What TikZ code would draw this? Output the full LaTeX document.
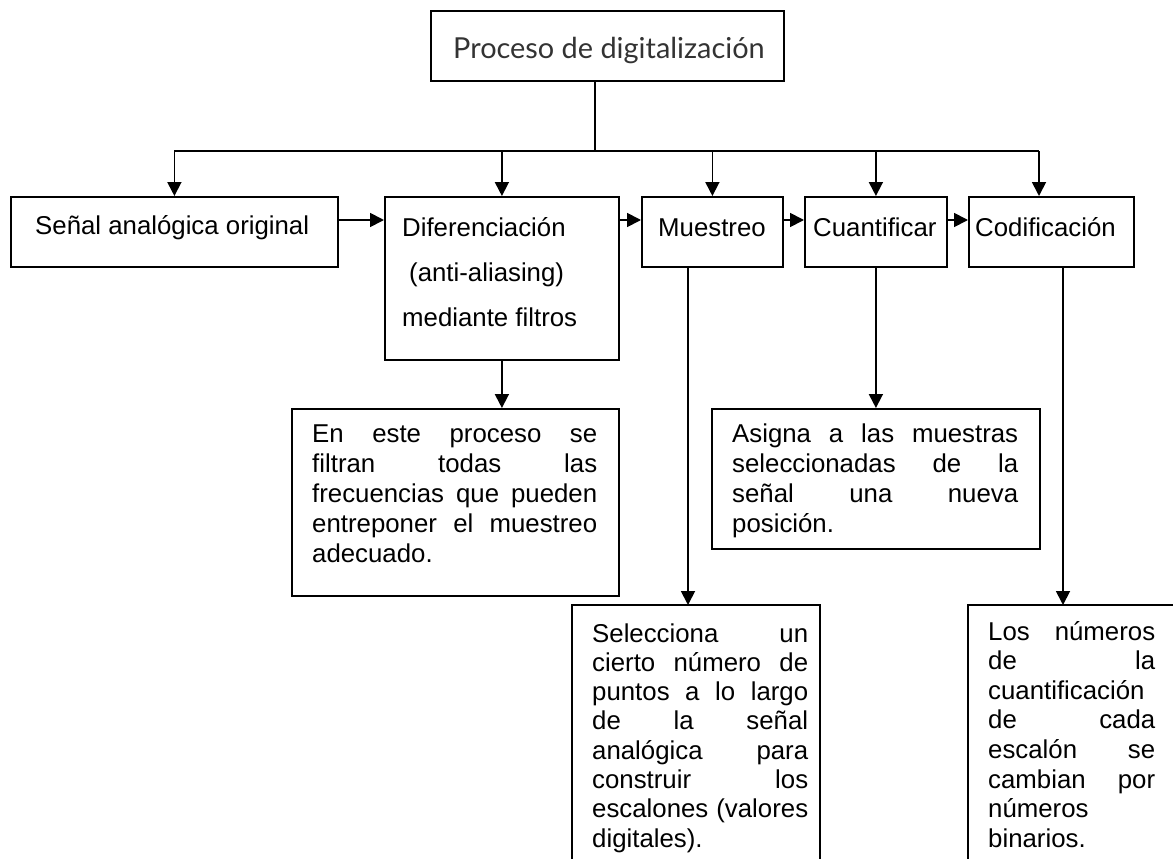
\documentclass[tikz,border=0pt]{standalone}
\usepackage{fontspec}
\setmainfont{Liberation Sans}
\newfontfamily\titlefont{Lato}
\usetikzlibrary{arrows.meta}
\tikzset{
  box/.style={draw, line width=1.8pt, inner sep=0pt, anchor=north west},
  arr/.style={line width=1.8pt, -{Triangle[length=14pt,width=14pt]}},
  ln/.style={line width=1.8pt},
  txt/.style={inner sep=0pt, anchor=base west, font=\fontsize{25.8}{30}\selectfont},
  ttl/.style={inner sep=0pt, anchor=base west, text=black!80, font=\titlefont\fontsize{28.9}{30}\selectfont},
}
\newcommand\jpara[6]{%
  \foreach \myline [count=\i] in {#6} {%
    \node[txt] (#1-\i) at ({#2}, {#3+(\i-1)*#4}) {\makebox[#5pt][s]{\myline}};}}
\begin{document}
\begin{tikzpicture}[x=1pt,y=-1pt]
\useasboundingbox (0,0) rectangle (1173,859);
\clip (0,0) rectangle (1173,859);
% boxes
\node[box, minimum width=353pt, minimum height=70pt] (title) at (430,10) {};
\node[box, minimum width=327pt, minimum height=70pt] (sen) at (10,196) {};
\node[box, minimum width=234pt, minimum height=163pt] (dif) at (384,196) {};
\node[box, minimum width=141pt, minimum height=70pt] (mue) at (641,196) {};
\node[box, minimum width=142pt, minimum height=70pt] (cua) at (804,196) {};
\node[box, minimum width=165pt, minimum height=70pt] (cod) at (968,196) {};
\node[box, minimum width=327pt, minimum height=187pt] (difd) at (291,408) {};
\node[box, minimum width=328pt, minimum height=140pt] (cuad) at (711,408) {};
\draw[ln] (572,880) |- (820,605) -- (820,880);
\draw[ln] (968,880) |- (1190,605);
\coordinate (mued) at (688,605);
\coordinate (codd) at (1063,605);
% connectors
\coordinate (bus) at (595,151);
\coordinate (busL) at (sen.north |- bus);
\coordinate (busR) at (1039,151);
\coordinate (hr) at (0,220);
\draw[ln] (title.south -| bus) -- (bus);
\draw[ln] (busL) -- (busR);
\draw[arr] (busL) -- (sen.north);
\draw[arr] (bus -| dif.north) -- (dif.north);
\draw[arr] (bus -| mue.north) -- (mue.north);
\draw[arr] (bus -| cua.north) -- (cua.north);
\draw[arr] (busR) -- (busR |- cod.north);
\draw[arr] (sen.east |- hr) -- (dif.west |- hr);
\draw[arr] (dif.east |- hr) -- (mue.west |- hr);
\draw[arr] (mue.east |- hr) -- (cua.west |- hr);
\draw[arr] (cua.east |- hr) -- (cod.west |- hr);
\draw[arr] (dif.south) -- (dif.south |- difd.north);
\draw[arr] (cua.south) -- (cua.south |- cuad.north);
\draw[arr] (mued |- mue.south) -- (mued);
\draw[arr] (codd |- cod.south) -- (codd);
% texts
\node[ttl] (tt) at (453,59) {Proceso de digitalización};
\node[txt] (sent) at (35,234) {Señal analógica original};
\node[txt] (dift1) at (402,236) {Diferenciación};
\node[txt] (dift2) at (409,281) {(anti-aliasing)};
\node[txt] (dift3) at (402,326) {mediante filtros};
\node[txt] (muet) at (658,236) {Muestreo};
\node[txt] (cuat) at (813,236) {Cuantificar};
\node[txt] (codt) at (975,236) {Codificación};
\jpara{p1}{312}{442}{30}{285}{{En este proceso se},{filtran todas las},{frecuencias que pueden},{entreponer el muestreo},{adecuado.}}
\jpara{p2}{732}{442}{30}{286}{{Asigna a las muestras},{seleccionadas de la},{señal una nueva},{posición.}}
\jpara{p3}{592}{642}{29.3}{216}{{Selecciona un},{cierto número de},{puntos a lo largo},{de la señal},{analógica para},{construir los},{escalones (valores},{digitales).}}
\jpara{p4}{988}{640}{29.6}{167}{{Los números},{de la},{cuantificación},{de cada},{escalón se},{cambian por},{números},{binarios.}}
\end{tikzpicture}
\end{document}
